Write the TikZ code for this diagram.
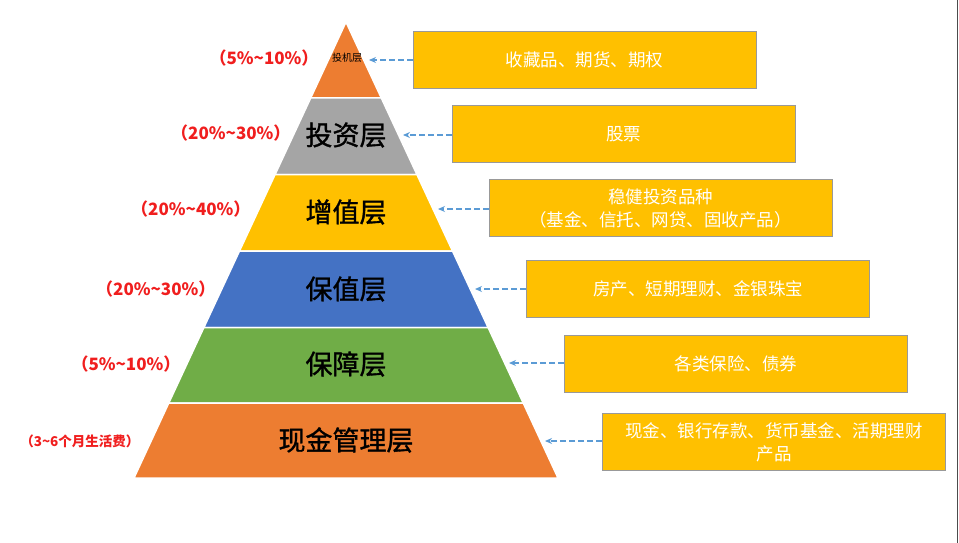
\documentclass[tikz,border=0pt]{standalone}
\usepackage{fontspec}
\newfontfamily\cjk{Noto Sans CJK SC}
\newfontfamily\cjkmid[FakeBold=1.2]{Noto Sans CJK SC}
\usetikzlibrary{arrows.meta}
\definecolor{layorange}{HTML}{ED7D31}
\definecolor{laygray}{HTML}{A5A5A5}
\definecolor{layyellow}{HTML}{FFC000}
\definecolor{layblue}{HTML}{4472C4}
\definecolor{laygreen}{HTML}{70AD47}
\definecolor{flowblue}{HTML}{5B9BD5}
\definecolor{sharered}{HTML}{F01E1E}

\begin{document}
\begin{tikzpicture}[x=1pt,y=-1pt,
    layer/.style={draw=white,line width=1.5pt},
    layername/.style={font=\cjkmid\fontsize{27}{30}\selectfont,text=black},
    share/.style={anchor=east,font=\cjk\bfseries\fontsize{17}{19}\selectfont,text=sharered},
    item/.style={fill=layyellow,draw=gray!80,line width=0.8pt,minimum width=343pt,
      minimum height=57pt,text=white,align=center,
      font=\cjk\fontsize{17.5}{23}\selectfont},
    flow/.style={draw=flowblue,line width=2pt,dash pattern=on 6pt off 3pt,
      -{Stealth[length=7pt,width=6pt]}}]
  \useasboundingbox (0,0) rectangle (959,543);

  % pyramid
  \fill[layorange,layer] (346,22) -- (381.3,98) -- (310.7,98) -- cycle;
  \fill[laygray,layer] (310.7,98) -- (381.3,98) -- (416.9,174.5) -- (275.1,174.5) -- cycle;
  \fill[layyellow,layer] (275.1,174.5) -- (416.9,174.5) -- (452.5,251) -- (239.5,251) -- cycle;
  \fill[layblue,layer] (239.5,251) -- (452.5,251) -- (488.1,327.5) -- (203.9,327.5) -- cycle;
  \fill[laygreen,layer] (203.9,327.5) -- (488.1,327.5) -- (523.2,403) -- (168.8,403) -- cycle;
  \fill[layorange,layer] (168.8,403) -- (523.2,403) -- (558,478) -- (134,478) -- cycle;

  \node (n1) at (347,58) {\cjk\fontsize{10}{11}\selectfont 投机层};
  \node[layername] (n2) at (346,135) {投资层};
  \node[layername] (n3) at (346,212) {增值层};
  \node[layername] (n4) at (346,289) {保值层};
  \node[layername] (n5) at (346,364) {保障层};
  \node[layername] (n6) at (346,440) {现金管理层};

  \node[share] (s1) at (322,58) {（5\%\textasciitilde 10\%）};
  \node[share] (s2) at (294,133) {（20\%\textasciitilde 30\%）};
  \node[share] (s3) at (254,209) {（20\%\textasciitilde 40\%）};
  \node[share] (s4) at (219,289) {（20\%\textasciitilde 30\%）};
  \node[share] (s5) at (184,364) {（5\%\textasciitilde 10\%）};
  \node[share,font=\cjk\bfseries\fontsize{13.5}{15}\selectfont] (s6) at (143,441) {（3\textasciitilde 6个月生活费）};

  % boxes
  \node[item] (b1) at (584.5,59.5) {收藏品、期货、期权};
  \node[item] (b2) at (623.5,134) {股票};
  \node[item] (b3) at (660.5,208) {稳健投资品种\\（基金、信托、网贷、固收产品）};
  \node[item] (b4) at (698,289) {房产、短期理财、金银珠宝};
  \node[item] (b5) at (736,363.5) {各类保险、债券};
  \node[item] (b6) at (774,442) {现金、银行存款、货币基金、活期理财\\产品};

  \coordinate (t1) at (369,60);
  \coordinate (t2) at (403,135);
  \coordinate (t3) at (438,209);
  \coordinate (t4) at (475,289);
  \coordinate (t5) at (509,363);
  \coordinate (t6) at (545,441);

  \path
    (b1.west |- t1) edge[flow] (t1)
    (b2.west |- t2) edge[flow] (t2)
    (b3.west |- t3) edge[flow] (t3)
    (b4.west |- t4) edge[flow] (t4)
    (b5.west |- t5) edge[flow] (t5)
    (b6.west |- t6) edge[flow] (t6);

  \draw[gray!60!black,line width=1.5pt] (957.5,0) -- (957.5,543);
\end{tikzpicture}
\end{document}
